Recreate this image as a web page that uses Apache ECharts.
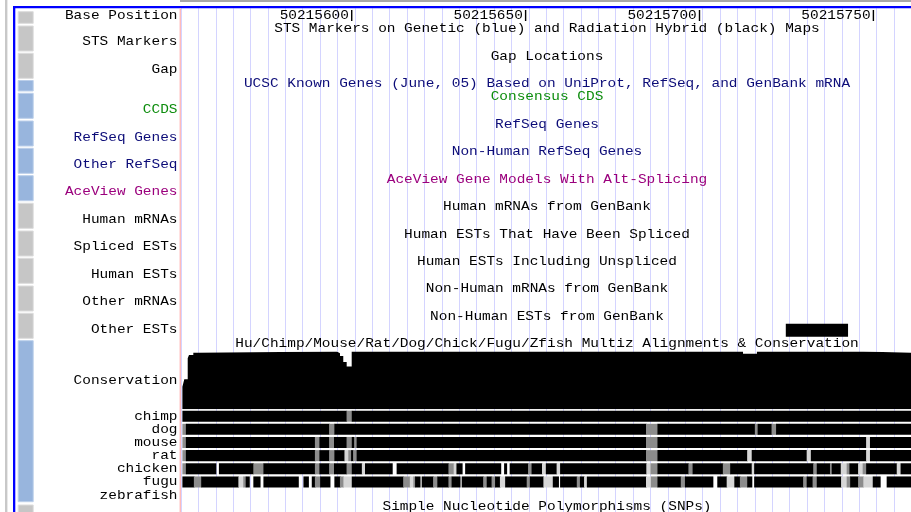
<!DOCTYPE html>
<html>
<head>
<meta charset="utf-8">
<title>Multiz conservation</title>
<script src="https://cdn.jsdelivr.net/npm/echarts@6/dist/echarts.min.js"></script>
<style>
html, body { margin: 0; padding: 0; background: #fff; }
#chart { width: 911px; height: 512px; }
</style>
</head>
<body>
<div id="chart"></div>
<script>
// visible window (left edge of the image is viewStart)
const viewStart = 50215551;
const viewEnd = 50215760.9;

const rulerTicks = [50215600, 50215650, 50215700, 50215750];

const trackNames = ["Base Position", "STS Markers", "Gap", "CCDS", "RefSeq Genes", "Other RefSeq",
  "AceView Genes", "Human mRNAs", "Spliced ESTs", "Human ESTs", "Other mRNAs", "Other ESTs", "Conservation"];

const trackTitles = [
  "STS Markers on Genetic (blue) and Radiation Hybrid (black) Maps",
  "Gap Locations",
  "UCSC Known Genes (June, 05) Based on UniProt, RefSeq, and GenBank mRNA",
  "Consensus CDS",
  "RefSeq Genes",
  "Non-Human RefSeq Genes",
  "AceView Gene Models With Alt-Splicing",
  "Human mRNAs from GenBank",
  "Human ESTs That Have Been Spliced",
  "Human ESTs Including Unspliced",
  "Non-Human mRNAs from GenBank",
  "Non-Human ESTs from GenBank",
  "Hu/Chimp/Mouse/Rat/Dog/Chick/Fugu/Zfish Multiz Alignments & Conservation",
  "Simple Nucleotide Polymorphisms (SNPs)"
];

// base offsets from viewStart
const otherEsts = [[173.9, 191.8]];

// [from, to, score 0..1]
const conservation = [
  [0.4, 0.95, 0.39], [0.95, 1.93, 0.52], [1.93, 2.3, 0.885], [2.3, 3.54, 0.94], [3.54, 4.97, 0.98],
  [4.97, 44.77, 1], [44.77, 45.72, 0.97], [45.72, 46.66, 0.92], [46.66, 47.64, 0.82], [47.64, 49.08, 0.74],
  [49.08, 161.6, 1], [161.6, 165.6, 0.96], [165.6, 196.1, 1], [196.1, 209.9, 0.98]
];

const species = ["chimp", "dog", "mouse", "rat", "chicken", "fugu", "zebrafish"];

// [from, to, shade]  k = aligned, g = partial, l = weak
const chimp = [[0.4, 47.6, "k"], [47.6, 49.1, "g"], [49.1, 209.9, "k"]];
const dog = [[0.4, 1.4, "g"], [1.4, 42.6, "k"], [42.6, 44.1, "g"], [44.1, 133.7, "k"], [133.7, 137.0, "g"],
  [137.0, 165.0, "k"], [165.0, 165.8, "g"], [165.8, 169.8, "k"], [169.8, 171.1, "g"], [171.1, 209.9, "k"]];
const mouse = [[0.4, 1.4, "g"], [1.4, 38.5, "k"], [38.5, 39.8, "g"], [39.8, 42.6, "k"], [42.6, 44.0, "g"],
  [44.0, 47.6, "k"], [47.6, 49.1, "g"], [49.1, 49.8, "k"], [49.8, 50.5, "g"], [50.5, 133.7, "k"],
  [133.7, 137.0, "g"], [137.0, 197.0, "k"], [197.0, 198.1, "l"], [198.1, 209.9, "k"]];
const rat = [[0.4, 1.4, "g"], [1.4, 38.5, "k"], [38.5, 39.8, "g"], [39.8, 42.6, "k"], [42.6, 44.1, "g"],
  [44.1, 47.0, "k"], [47.0, 48.1, "l"], [48.1, 48.9, "g"], [48.9, 49.5, "k"], [49.5, 50.5, "g"],
  [50.5, 133.7, "k"], [133.7, 137.0, "g"], [137.0, 162.8, "k"], [162.8, 164.1, "l"], [164.1, 179.9, "k"],
  [179.9, 181.1, "l"], [181.1, 197.0, "k"], [197.0, 198.1, "l"], [198.1, 209.9, "k"]];
const chicken = [[0.4, 1.4, "g"], [1.4, 10.0, "k"], [10.9, 20.8, "k"], [20.8, 23.7, "g"], [23.7, 38.5, "k"],
  [38.5, 39.8, "g"], [39.8, 42.6, "k"], [42.6, 44.0, "g"], [44.0, 47.6, "k"], [47.6, 49.1, "g"],
  [49.1, 52.0, "k"], [52.0, 52.9, "l"], [52.9, 60.7, "k"], [62.0, 76.9, "k"], [76.9, 78.4, "g"],
  [78.4, 79.2, "l"], [79.2, 80.8, "k"], [81.7, 91.9, "k"], [92.9, 93.6, "k"], [94.5, 99.8, "k"],
  [99.8, 100.8, "g"], [100.8, 103.8, "k"], [103.8, 104.9, "l"], [104.9, 108.0, "k"], [108.0, 109.0, "l"],
  [109.0, 133.8, "k"], [133.8, 135.0, "l"], [135.0, 137.0, "g"], [137.0, 145.9, "k"], [145.9, 147.1, "g"],
  [147.1, 155.8, "k"], [155.8, 157.9, "g"], [157.9, 164.1, "k"], [164.1, 164.8, "l"], [164.8, 181.8, "k"],
  [181.8, 182.8, "g"], [182.8, 186.6, "k"], [186.6, 187.1, "g"], [187.1, 189.7, "k"], [189.7, 191.4, "l"],
  [191.4, 192.2, "g"], [192.2, 194.7, "k"], [194.7, 196.0, "l"], [196.0, 197.0, "g"], [197.0, 205.8, "k"],
  [205.8, 206.9, "l"], [206.9, 209.9, "k"]];
const fugu = [[0.4, 3.7, "k"], [3.7, 5.8, "g"], [5.8, 16.5, "k"], [16.5, 17.9, "l"], [17.9, 18.6, "g"],
  [18.6, 19.6, "k"], [20.8, 22.7, "k"], [23.7, 33.7, "k"], [35.2, 36.6, "k"], [37.6, 38.5, "k"],
  [38.5, 40.0, "g"], [40.0, 42.8, "k"], [44.1, 45.7, "k"], [45.7, 46.7, "g"], [46.7, 49.1, "l"],
  [49.1, 63.9, "k"], [63.9, 65.8, "g"], [65.8, 66.8, "l"], [66.8, 67.3, "g"], [67.3, 68.7, "k"],
  [69.2, 72.5, "k"], [72.5, 73.7, "g"], [73.7, 76.9, "k"], [76.9, 77.8, "g"], [77.8, 80.2, "k"],
  [80.7, 86.9, "k"], [86.9, 87.9, "g"], [87.9, 89.3, "k"], [89.3, 90.3, "g"], [90.3, 91.7, "k"],
  [91.7, 93.2, "l"], [93.2, 99.4, "k"], [99.4, 100.3, "g"], [100.3, 104.2, "k"], [104.2, 106.9, "l"],
  [106.9, 108.5, "k"], [109.0, 113.8, "k"], [113.8, 114.7, "g"], [114.7, 115.9, "k"], [115.9, 116.7, "l"],
  [116.7, 133.7, "k"], [133.7, 135.1, "l"], [135.1, 137.0, "g"], [137.0, 143.7, "k"], [143.7, 144.9, "g"],
  [144.9, 152.9, "k"], [154.2, 156.9, "k"], [156.9, 159.1, "l"], [159.1, 160.7, "k"], [160.7, 162.8, "g"],
  [162.8, 164.1, "k"], [164.8, 178.9, "k"], [178.9, 179.9, "g"], [179.9, 181.6, "k"], [181.6, 182.8, "g"],
  [182.8, 189.8, "k"], [189.8, 191.4, "l"], [191.4, 192.4, "g"], [192.4, 194.7, "k"], [194.7, 196.2, "g"],
  [196.2, 198.9, "l"], [198.9, 201.0, "k"], [202.9, 209.9, "k"]];
const zebrafish = [];
const speciesBlocks = [chimp, dog, mouse, rat, chicken, fugu, zebrafish];

// ---- look ----
const FONT = '13px "Liberation Mono"';
const TEXT_SCALE = 1.11; // widen to the browser's bitmap font pitch
const NAVY = "rgb(12,12,120)";
const GREEN = "rgb(12,140,12)";
const ACE = "rgb(155,0,125)";
const shadeColors = { k: "#000000", g: "#8c8c8c", l: "#d6d6d6" };

const trackNameY = [16, 42, 70, 110, 138, 165, 192, 220, 247, 275, 302, 330, 381];
const trackNameColor = ["#000", "#000", "#000", GREEN, NAVY, NAVY, ACE, "#000", "#000", "#000", "#000", "#000", "#000"];
const titleY = [29, 57, 84, 97, 125, 152, 180, 207, 235, 262, 289, 317, 344, 507];
const titleColor = ["#000", "#000", NAVY, GREEN, NAVY, NAVY, ACE, "#000", "#000", "#000", "#000", "#000", "#000", "#000"];

// side buttons [top, bottom, kind]
const buttons = [[11.7, 23.3, 0], [26, 51, 0], [53.3, 78.3, 0], [80.5, 91, 1], [93.3, 118.3, 1], [121, 146, 1],
  [148.3, 173.3, 1], [175.7, 200.7, 1], [203.3, 228.3, 0], [231, 256, 0], [258.3, 283.3, 0], [286, 311, 0],
  [313.3, 338.3, 0], [340.7, 501.7, 1], [505, 516, 0]];

const gridLeft = 181, gridWidth = 730;
const speciesTop = 409.6, speciesHeight = 92.1;

const chart = echarts.init(document.getElementById("chart"), null, { renderer: "canvas" });

function xAxisFor(i, extra) {
  return Object.assign({
    gridIndex: i, type: "value", min: viewStart, max: viewEnd, show: false
  }, extra || {});
}

function label(text, x, y, color, align) {
  return {
    type: "text", x: x, y: y, z: 20, scaleX: TEXT_SCALE,
    style: { text: text, fill: color, font: FONT, align: align, verticalAlign: "middle" }
  };
}

const speciesData = [];
const speciesShade = [];
speciesBlocks.forEach((blocks, row) => {
  blocks.forEach(b => {
    speciesData.push([row, viewStart + b[0], viewStart + b[1]]);
    speciesShade.push(shadeColors[b[2]]);
  });
});

// conservation as a stepped area: each score holds until the next start
const consLine = conservation.map(c => [viewStart + c[0], c[2]]);
const lastCons = conservation[conservation.length - 1];
consLine.push([viewStart + lastCons[1], lastCons[2]]);

const graphics = [];
// frame
graphics.push({ type: "rect", shape: { x: 5, y: 0, width: 2.4, height: 512 }, style: { fill: "#c8c8c8" } });
graphics.push({ type: "rect", shape: { x: 180, y: 0, width: 731, height: 2 }, style: { fill: "#a8a8a8" } });
graphics.push({ type: "rect", shape: { x: 13, y: 6, width: 898, height: 2.3 }, style: { fill: "#0000ff" }, z: 20 });
graphics.push({ type: "rect", shape: { x: 13, y: 6, width: 2.3, height: 506 }, style: { fill: "#0000ff" }, z: 20 });
graphics.push({ type: "rect", shape: { x: 179.6, y: 8.3, width: 1.3, height: 504 }, style: { fill: "#ffb4b4" }, z: 20 });
buttons.forEach(b => {
  graphics.push({
    type: "rect",
    shape: { x: 18.2, y: b[0], width: 15, height: b[1] - b[0] },
    style: { fill: b[2] ? "#98b5dd" : "#c6c6c6", stroke: b[2] ? "#bccfea" : "#dcdcdc", lineWidth: 1 }
  });
});
trackNames.forEach((t, i) => graphics.push(label(t, 177.5, trackNameY[i], trackNameColor[i], "right")));
trackTitles.forEach((t, i) => graphics.push(label(t, 547, titleY[i], titleColor[i], "center")));
species.forEach((s, i) => {
  const rowH = speciesHeight / species.length;
  graphics.push(label(s, 177.5, speciesTop + rowH * (i + 0.5), "#000", "right"));
});

chart.setOption({
  animation: false,
  backgroundColor: "#fff",
  grid: [
    { left: gridLeft, width: gridWidth, top: 8.3, height: 504 },      // guidelines
    { left: gridLeft, width: gridWidth, top: 10, height: 11 },        // ruler
    { left: gridLeft, width: gridWidth, top: 323.7, height: 13 },     // other ESTs
    { left: gridLeft, width: gridWidth, top: 351.5, height: 57.8 },   // conservation
    { left: gridLeft, width: gridWidth, top: speciesTop, height: speciesHeight } // species rows
  ],
  xAxis: [
    xAxisFor(0, {
      show: true, interval: 5,
      axisLine: { show: false }, axisTick: { show: false }, axisLabel: { show: false },
      splitLine: { show: true, lineStyle: { color: "#d4d4ff", width: 1 } }
    }),
    xAxisFor(1), xAxisFor(2), xAxisFor(3), xAxisFor(4)
  ],
  yAxis: [
    { gridIndex: 0, type: "value", min: 0, max: 1, show: false },
    { gridIndex: 1, type: "value", min: 0, max: 1, show: false },
    { gridIndex: 2, type: "category", data: ["Other ESTs"], show: false },
    { gridIndex: 3, type: "value", min: 0, max: 1, show: false },
    { gridIndex: 4, type: "category", data: species, inverse: true, show: false }
  ],
  graphic: { elements: graphics },
  series: [
    {
      type: "custom", xAxisIndex: 1, yAxisIndex: 1, silent: true,
      data: rulerTicks.map(v => [v]),
      encode: { x: 0 },
      renderItem: (params, api) => {
        const x = api.coord([api.value(0), 0])[0];
        const cs = params.coordSys;
        return {
          type: "group",
          children: [
            { type: "rect", shape: { x: x - 0.4, y: cs.y, width: 1.4, height: cs.height }, style: { fill: "#000" } },
            {
              type: "text", x: x - 2.5, y: cs.y + cs.height / 2 + 0.5, scaleX: TEXT_SCALE,
              style: { text: String(api.value(0)), align: "right", verticalAlign: "middle", font: FONT, fill: "#000" }
            }
          ]
        };
      }
    },
    {
      type: "custom", xAxisIndex: 2, yAxisIndex: 2, silent: true,
      data: otherEsts.map(b => [viewStart + b[0], viewStart + b[1], 0]),
      encode: { x: [0, 1], y: 2 },
      renderItem: (params, api) => {
        const p0 = api.coord([api.value(0), 0]);
        const p1 = api.coord([api.value(1), 0]);
        const h = api.size([0, 1])[1];
        return { type: "rect", shape: { x: p0[0], y: p0[1] - h / 2, width: p1[0] - p0[0], height: h }, style: { fill: "#000", stroke: null } };
      }
    },
    {
      type: "line", xAxisIndex: 3, yAxisIndex: 3, silent: true,
      data: consLine, step: "end", symbol: "none",
      lineStyle: { width: 0, opacity: 0 },
      areaStyle: { color: "#000", opacity: 1 }
    },
    {
      type: "custom", xAxisIndex: 4, yAxisIndex: 4, silent: true,
      data: speciesData,
      encode: { x: [1, 2], y: 0 },
      renderItem: (params, api) => {
        const row = api.value(0);
        const p0 = api.coord([api.value(1), row]);
        const p1 = api.coord([api.value(2), row]);
        const h = api.size([0, 1])[1] * 0.84;
        return {
          type: "rect",
          shape: { x: p0[0], y: p0[1] - h / 2, width: p1[0] - p0[0] + 0.6, height: h },
          style: { fill: speciesShade[params.dataIndex], stroke: null, lineWidth: 0 }
        };
      }
    }
  ]
});
</script>
</body>
</html>
